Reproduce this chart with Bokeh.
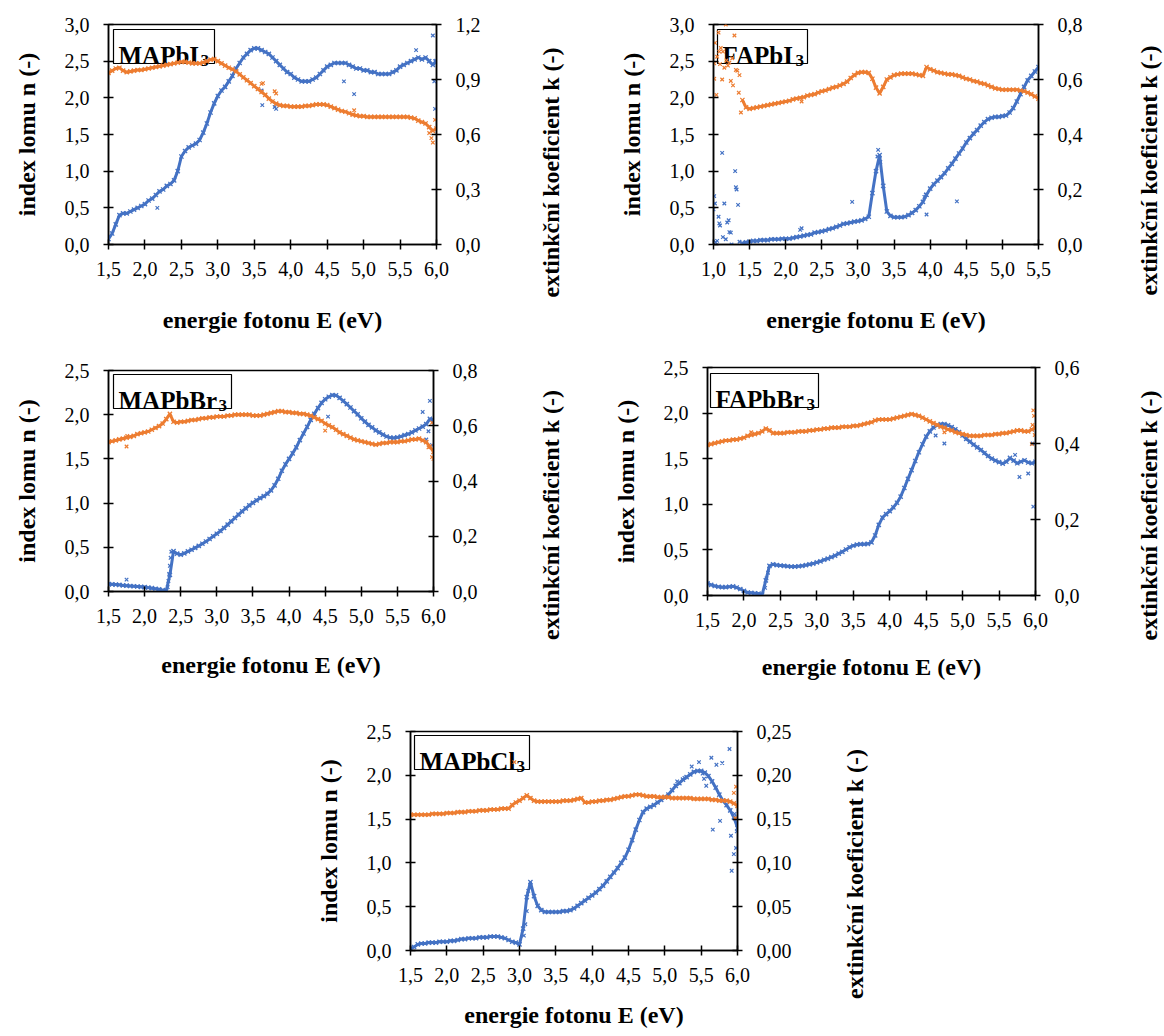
import numpy as np
from bokeh.plotting import figure
from bokeh.layouts import column, row
from bokeh.models import Range1d, LinearAxis, FixedTicker, CustomJSTickFormatter, Spacer
from bokeh.core.properties import value
from bokeh.embed import file_html
from bokeh.resources import INLINE

FONT = "Liberation Serif"
ORANGE = "#ED7D31"
BLUE = "#4472C4"

# photon energy sampling (eV)
E_15_60 = np.round(np.arange(150, 601, 5) / 100.0, 2)   # 1.50 ... 6.00
E_14_55 = np.round(np.arange(140, 551, 5) / 100.0, 2)   # 1.40 ... 5.50

# ---------------- MAPbI3 ----------------
MAPbI3_n = [2.34, 2.37, 2.40, 2.41, 2.37, 2.35, 2.36, 2.37, 2.38, 2.38,
            2.39, 2.40, 2.41, 2.42, 2.43, 2.44, 2.45, 2.46, 2.47, 2.48,
            2.49, 2.49, 2.48, 2.47, 2.47, 2.47, 2.48, 2.50, 2.52, 2.53,
            2.50, 2.47, 2.44, 2.41, 2.39, 2.36, 2.32, 2.28, 2.24, 2.20,
            2.16, 2.12, 2.08, 2.04, 1.99, 1.95, 1.92, 1.90, 1.89, 1.89,
            1.88, 1.88, 1.88, 1.88, 1.89, 1.89, 1.90, 1.91, 1.91, 1.91,
            1.90, 1.88, 1.86, 1.84, 1.82, 1.81, 1.79, 1.77, 1.76, 1.75,
            1.75, 1.74, 1.74, 1.74, 1.74, 1.74, 1.74, 1.74, 1.74, 1.74,
            1.74, 1.74, 1.74, 1.73, 1.72, 1.69, 1.67, 1.65, 1.60, 1.55,
            1.58]
MAPbI3_k = [0.03, 0.06, 0.11, 0.16, 0.17, 0.17, 0.18, 0.19, 0.20, 0.21,
            0.22, 0.24, 0.25, 0.27, 0.29, 0.30, 0.32, 0.33, 0.35, 0.40,
            0.48, 0.51, 0.53, 0.54, 0.55, 0.57, 0.61, 0.66, 0.72, 0.77,
            0.81, 0.84, 0.86, 0.89, 0.92, 0.96, 0.99, 1.02, 1.04, 1.06,
            1.07, 1.07, 1.06, 1.05, 1.04, 1.02, 1.00, 0.98, 0.96, 0.94,
            0.93, 0.91, 0.90, 0.89, 0.89, 0.89, 0.90, 0.91, 0.93, 0.95,
            0.97, 0.98, 0.99, 0.99, 0.99, 0.99, 0.98, 0.97, 0.96, 0.96,
            0.95, 0.95, 0.94, 0.94, 0.93, 0.93, 0.93, 0.93, 0.94, 0.95,
            0.97, 0.98, 0.99, 1.00, 1.01, 1.02, 1.01, 1.02, 1.00, 0.98,
            1.00]
MAPbI3_n_out_E = [3.60, 3.62, 3.78, 3.80, 4.87, 5.95, 5.98, 5.90, 5.93]
MAPbI3_n_out = [2.19, 2.20, 2.09, 2.06, 1.83, 1.39, 1.70, 1.52, 1.45]
MAPbI3_k_out_E = [2.17, 3.60, 3.61, 3.78, 3.80, 4.73, 4.87, 5.72, 5.95, 5.97, 5.98, 5.98]
MAPbI3_k_out = [0.20, 0.84, 0.76, 0.75, 0.74, 0.89, 0.82, 1.06, 1.14, 0.89, 1.00, 0.74]

# ---------------- FAPbI3 ----------------
FAPbI3_n = [1.97, 1.87,
            1.85, 1.86, 1.87, 1.88, 1.89, 1.90, 1.91, 1.92, 1.93, 1.94,
            1.95, 1.96, 1.98, 1.99, 2.00, 2.01, 2.03, 2.04, 2.05, 2.07,
            2.09, 2.10, 2.12, 2.14, 2.15, 2.17, 2.19, 2.22, 2.27, 2.31,
            2.34, 2.35, 2.35, 2.34, 2.26, 2.14, 2.06, 2.15, 2.25, 2.28,
            2.31, 2.32, 2.33, 2.33, 2.33, 2.33, 2.32, 2.31, 2.30, 2.42,
            2.39, 2.37, 2.35, 2.34, 2.33, 2.32, 2.32, 2.31, 2.30, 2.28,
            2.26, 2.25, 2.23, 2.22, 2.20, 2.19, 2.17, 2.15, 2.13, 2.12,
            2.11, 2.11, 2.11, 2.11, 2.11, 2.10, 2.09, 2.07, 2.05, 2.02,
            1.99]
FAPbI3_k = [0.005, 0.008,
            0.011, 0.013, 0.013, 0.016, 0.016, 0.016, 0.019, 0.019, 0.019, 0.021,
            0.021, 0.021, 0.024, 0.027, 0.029, 0.032, 0.035, 0.037, 0.043, 0.045,
            0.048, 0.051, 0.056, 0.059, 0.064, 0.069, 0.075, 0.077, 0.080, 0.083,
            0.085, 0.088, 0.093, 0.101, 0.187, 0.267, 0.325, 0.213, 0.120, 0.104,
            0.099, 0.099, 0.099, 0.101, 0.107, 0.115, 0.125, 0.139, 0.155, 0.181,
            0.203, 0.219, 0.232, 0.245, 0.259, 0.277, 0.293, 0.312, 0.331, 0.349,
            0.371, 0.387, 0.403, 0.416, 0.432, 0.445, 0.456, 0.461, 0.464, 0.464,
            0.467, 0.469, 0.480, 0.496, 0.520, 0.547, 0.573, 0.597, 0.613, 0.629,
            0.645]
FAPbI3_n_out_E = [1.01, 1.01, 1.02, 1.04, 1.05, 1.07, 1.08, 1.09, 1.10, 1.12, 1.13, 1.15, 1.17,
                  1.18, 1.20, 1.22, 1.24, 1.26, 1.27, 1.29, 1.31, 1.33, 1.35, 1.36, 1.38, 2.22]
FAPbI3_n_out = [2.26, 2.47, 2.75, 2.04, 2.56, 2.89, 2.63, 2.46, 2.68, 2.25, 2.63, 2.41, 3.00,
                2.51, 2.44, 2.48, 2.23, 2.54, 2.17, 2.85, 2.38, 2.37, 2.07, 2.31, 1.80, 1.95]
FAPbI3_k_out_E = [1.00, 1.01, 1.02, 1.03, 1.05, 1.07, 1.08, 1.09, 1.12, 1.13, 1.15, 1.17, 1.19,
                  1.21, 1.22, 1.24, 1.25, 1.30, 1.31, 1.32, 1.34, 1.36, 2.20, 2.22, 2.92, 3.27,
                  3.28, 3.31, 3.94, 3.92, 3.95, 4.37]
FAPbI3_k_out = [0.128, 0.176, 0.149, 0.008, 0.013, 0.101, 0.077, 0.069, 0.333, 0.027, 0.149, 0.019,
                0.080, 0.088, 0.045, 0.043, 0.000, 0.267, 0.208, 0.200, 0.144, 0.010, 0.053, 0.059,
                0.155, 0.320, 0.344, 0.300, 0.181, 0.173, 0.109, 0.157]

# ---------------- MAPbBr3 ----------------
MAPbBr3_n = [1.69, 1.70, 1.71, 1.72, 1.73, 1.74, 1.75, 1.76, 1.78, 1.79,
             1.80, 1.81, 1.83, 1.85, 1.87, 1.90, 1.95, 2.01, 1.92, 1.91,
             1.92, 1.92, 1.93, 1.94, 1.94, 1.95, 1.96, 1.96, 1.97, 1.97,
             1.98, 1.98, 1.98, 1.99, 1.99, 2.00, 2.00, 2.00, 2.00, 2.00,
             1.99, 1.99, 1.99, 2.00, 2.01, 2.02, 2.03, 2.04, 2.04, 2.03,
             2.03, 2.02, 2.02, 2.01, 2.01, 2.00, 1.99, 1.97, 1.95, 1.93,
             1.90, 1.88, 1.86, 1.83, 1.80, 1.78, 1.76, 1.74, 1.72, 1.71,
             1.70, 1.69, 1.68, 1.67, 1.66, 1.67, 1.68, 1.68, 1.69, 1.69,
             1.69, 1.70, 1.70, 1.71, 1.72, 1.72, 1.73, 1.71, 1.69, 1.64,
             1.58]
MAPbBr3_k = [0.027, 0.026, 0.025, 0.024, 0.022, 0.021, 0.020, 0.019, 0.018, 0.017,
             0.016, 0.014, 0.012, 0.010, 0.008, 0.005, 0.003, 0.060, 0.146, 0.137,
             0.133, 0.138, 0.145, 0.151, 0.158, 0.165, 0.173, 0.181, 0.190, 0.200,
             0.209, 0.219, 0.230, 0.242, 0.254, 0.266, 0.278, 0.290, 0.301, 0.312,
             0.321, 0.330, 0.338, 0.345, 0.354, 0.366, 0.384, 0.408, 0.437, 0.460,
             0.480, 0.500, 0.522, 0.548, 0.572, 0.596, 0.621, 0.643, 0.664, 0.683,
             0.696, 0.705, 0.711, 0.710, 0.701, 0.690, 0.678, 0.666, 0.653, 0.641,
             0.627, 0.615, 0.603, 0.594, 0.583, 0.576, 0.568, 0.561, 0.557, 0.556,
             0.558, 0.561, 0.566, 0.570, 0.576, 0.583, 0.590, 0.597, 0.606, 0.625,
             0.620]
MAPbBr3_n_out_E = [1.75, 1.76, 4.50, 5.93, 5.98, 6.00, 5.98]
MAPbBr3_n_out = [1.64, 1.76, 1.82, 1.63, 1.52, 1.50, 1.91]
MAPbBr3_k_out_E = [1.75, 2.32, 2.33, 2.34, 2.35, 2.36, 2.37, 4.54, 5.85, 5.95, 5.90, 5.98, 5.93]
MAPbBr3_k_out = [0.043, 0.016, 0.038, 0.064, 0.093, 0.122, 0.144, 0.633, 0.650, 0.690, 0.550, 0.530, 0.580]

# ---------------- FAPbBr3 ----------------
FAPbBr3_n = [1.65, 1.66, 1.67, 1.68, 1.69, 1.70, 1.70, 1.71, 1.71, 1.72,
             1.73, 1.75, 1.76, 1.77, 1.78, 1.80, 1.83, 1.81, 1.78, 1.78,
             1.78, 1.78, 1.79, 1.79, 1.79, 1.80, 1.80, 1.80, 1.81, 1.81,
             1.82, 1.82, 1.83, 1.83, 1.84, 1.84, 1.84, 1.85, 1.85, 1.85,
             1.86, 1.86, 1.87, 1.88, 1.89, 1.90, 1.92, 1.93, 1.93, 1.93,
             1.93, 1.94, 1.95, 1.96, 1.97, 1.98, 1.99, 1.98, 1.97, 1.95,
             1.93, 1.91, 1.89, 1.87, 1.85, 1.84, 1.82, 1.81, 1.79, 1.78,
             1.77, 1.76, 1.75, 1.75, 1.75, 1.75, 1.76, 1.76, 1.76, 1.77,
             1.77, 1.78, 1.78, 1.79, 1.80, 1.81, 1.81, 1.80, 1.80, 1.82,
             1.84]
FAPbBr3_k = [0.032, 0.028, 0.025, 0.023, 0.022, 0.022, 0.023, 0.024, 0.021, 0.017,
             0.012, 0.008, 0.007, 0.006, 0.005, 0.002, 0.040, 0.078, 0.082, 0.080,
             0.079, 0.078, 0.077, 0.076, 0.076, 0.077, 0.078, 0.080, 0.082, 0.084,
             0.087, 0.090, 0.094, 0.097, 0.101, 0.105, 0.110, 0.115, 0.121, 0.127,
             0.131, 0.134, 0.135, 0.135, 0.136, 0.140, 0.158, 0.186, 0.205, 0.214,
             0.222, 0.232, 0.244, 0.260, 0.283, 0.307, 0.330, 0.354, 0.377, 0.398,
             0.418, 0.432, 0.442, 0.448, 0.451, 0.451, 0.448, 0.443, 0.437, 0.430,
             0.421, 0.412, 0.405, 0.397, 0.390, 0.383, 0.375, 0.367, 0.360, 0.355,
             0.351, 0.347, 0.352, 0.362, 0.355, 0.348, 0.352, 0.356, 0.350, 0.348,
             0.352]
FAPbBr3_n_out_E = [2.10, 4.75, 5.97, 5.98, 5.96, 5.99, 5.95]
FAPbBr3_n_out = [1.79, 1.79, 2.03, 1.97, 1.87, 1.76, 1.66]
FAPbBr3_k_out_E = [2.29, 2.31, 2.33, 4.63, 4.75, 5.72, 5.78, 5.90, 5.95, 5.96, 5.97]
FAPbBr3_k_out = [0.020, 0.045, 0.060, 0.421, 0.400, 0.370, 0.312, 0.321, 0.437, 0.400, 0.234]

# ---------------- MAPbCl3 ----------------
MAPbCl3_n = [1.55, 1.55, 1.55, 1.55, 1.55, 1.55, 1.56, 1.56, 1.56, 1.56,
             1.57, 1.57, 1.57, 1.58, 1.58, 1.58, 1.59, 1.59, 1.59, 1.60,
             1.60, 1.60, 1.61, 1.61, 1.61, 1.62, 1.62, 1.62, 1.66, 1.69,
             1.71, 1.74, 1.77, 1.74, 1.71, 1.70, 1.70, 1.70, 1.70, 1.70,
             1.70, 1.70, 1.71, 1.71, 1.71, 1.72, 1.73, 1.74, 1.69, 1.69,
             1.70, 1.70, 1.71, 1.71, 1.72, 1.72, 1.73, 1.74, 1.75, 1.76,
             1.76, 1.77, 1.78, 1.78, 1.77, 1.76, 1.76, 1.76, 1.75, 1.75,
             1.75, 1.75, 1.74, 1.74, 1.74, 1.74, 1.74, 1.74, 1.73, 1.73,
             1.73, 1.73, 1.73, 1.72, 1.72, 1.71, 1.71, 1.71, 1.70, 1.68,
             1.65]
MAPbCl3_k = [0.002, 0.004, 0.007, 0.008, 0.008, 0.009, 0.009, 0.009, 0.010, 0.010,
             0.010, 0.011, 0.011, 0.012, 0.013, 0.013, 0.014, 0.014, 0.014, 0.015,
             0.015, 0.015, 0.016, 0.016, 0.016, 0.015, 0.014, 0.012, 0.010, 0.009,
             0.007, 0.025, 0.061, 0.078, 0.062, 0.051, 0.046, 0.044, 0.044, 0.044,
             0.044, 0.044, 0.045, 0.045, 0.046, 0.048, 0.051, 0.054, 0.057, 0.060,
             0.063, 0.066, 0.070, 0.074, 0.079, 0.084, 0.089, 0.094, 0.100, 0.106,
             0.115, 0.126, 0.138, 0.149, 0.158, 0.162, 0.164, 0.166, 0.169, 0.172,
             0.175, 0.178, 0.183, 0.188, 0.191, 0.195, 0.198, 0.201, 0.204, 0.205,
             0.205, 0.203, 0.199, 0.193, 0.186, 0.178, 0.171, 0.166, 0.160, 0.152,
             0.140]
MAPbCl3_n_out_E = [2.93, 5.97, 5.98, 5.95]
MAPbCl3_n_out = [2.15, 1.51, 1.87, 1.80]
MAPbCl3_k_out_E = [3.06, 3.08, 3.10, 3.12, 5.17, 5.27, 5.37, 5.47, 5.52, 5.54, 5.57, 5.64,
                   5.66, 5.71, 5.76, 5.79, 5.89, 5.91, 5.92, 5.95, 5.96, 5.98, 5.99]
MAPbCl3_k_out = [0.017, 0.030, 0.045, 0.068, 0.193, 0.197, 0.210, 0.215, 0.202, 0.196, 0.188,
                 0.220, 0.138, 0.212, 0.148, 0.214, 0.230, 0.131, 0.091, 0.110, 0.156, 0.117, 0.136]

N_LABEL = "index lomu n (-)"
K_LABEL = "extinkční koeficient k (-)"
E_LABEL = "energie fotonu E (eV)"

panels = [
    dict(name="MAPbI", E=E_15_60, n=MAPbI3_n, k=MAPbI3_k,
         noE=MAPbI3_n_out_E, no=MAPbI3_n_out, koE=MAPbI3_k_out_E, ko=MAPbI3_k_out,
         xr=(1.5, 6.0), nmax=3.0, kmax=1.2, kstep=0.3, kdec=1,
         fw=328, fh=220, bl=100, br=97, bt=16, bb=100, kt_shift=38,
         ls_b=28, box=(5, 5, 101), sub_dx=82),
    dict(name="FAPbI", E=E_14_55, n=FAPbI3_n, k=FAPbI3_k,
         noE=FAPbI3_n_out_E, no=FAPbI3_n_out, koE=FAPbI3_k_out_E, ko=FAPbI3_k_out,
         xr=(1.0, 5.5), nmax=3.0, kmax=0.8, kstep=0.2, kdec=1,
         fw=325, fh=220, bl=148, br=93, bt=16, bb=100, kt_shift=36,
         ls_b=28, box=(4, 5, 90), sub_dx=73),
    dict(name="MAPbBr", E=E_15_60, n=MAPbBr3_n, k=MAPbBr3_k,
         noE=MAPbBr3_n_out_E, no=MAPbBr3_n_out, koE=MAPbBr3_k_out_E, ko=MAPbBr3_k_out,
         xr=(1.5, 6.0), nmax=2.5, kmax=0.8, kstep=0.2, kdec=1,
         fw=325, fh=221, bl=100, br=100, bt=26, bb=109, kt_shift=34,
         ls_b=26, box=(5, 4, 118), sub_dx=100),
    dict(name="FAPbBr", E=E_15_60, n=FAPbBr3_n, k=FAPbBr3_k,
         noE=FAPbBr3_n_out_E, no=FAPbBr3_n_out, koE=FAPbBr3_k_out_E, ko=FAPbBr3_k_out,
         xr=(1.5, 6.0), nmax=2.5, kmax=0.6, kstep=0.2, kdec=1,
         fw=328, fh=228, bl=142, br=96, bt=23, bb=105, kt_shift=34,
         ls_b=24, box=(3, 6, 108), sub_dx=91),
    dict(name="MAPbCl", E=E_15_60, n=MAPbCl3_n, k=MAPbCl3_k,
         noE=MAPbCl3_n_out_E, no=MAPbCl3_n_out, koE=MAPbCl3_k_out_E, ko=MAPbCl3_k_out,
         xr=(1.5, 6.0), nmax=2.5, kmax=0.25, kstep=0.05, kdec=2,
         fw=327, fh=219, bl=100, br=100, bt=31, bb=84, kt_shift=33,
         ls_b=17, box=(4, 4, 115), sub_dx=97),
]

STRIP_BORDER = 30   # width reserved for the right-hand axis title
STRIP_FRAME = 2


def fmt(dec):
    return CustomJSTickFormatter(code="return tick.toFixed(%d).replace('.', ',');" % dec)


def ticks(lo, hi, step):
    cnt = int(round((hi - lo) / step))
    return [round(lo + i * step, 4) for i in range(cnt + 1)]


def style_axis(ax, label_standoff, title_standoff):
    ax.axis_line_color = "black"
    ax.axis_line_width = 1.5
    ax.major_tick_line_color = "black"
    ax.major_tick_line_width = 1.5
    ax.major_tick_in = 5
    ax.major_tick_out = 5
    ax.minor_tick_line_color = None
    ax.major_label_text_font = FONT
    ax.major_label_text_font_size = "20px"
    ax.major_label_text_color = "black"
    ax.major_label_standoff = label_standoff
    ax.axis_label_text_font = FONT
    ax.axis_label_text_font_size = "24px"
    ax.axis_label_text_font_style = "bold"
    ax.axis_label_text_color = "black"
    ax.axis_label_standoff = title_standoff


def make_panel(c):
    x0, x1 = c["xr"]
    H = c["bt"] + c["fh"] + c["bb"]
    p = figure(width=c["bl"] + c["fw"] + c["br"], height=H,
               x_range=Range1d(x0, x1), y_range=Range1d(0, c["nmax"]),
               output_backend="svg", toolbar_location=None,
               min_border_left=c["bl"], min_border_right=c["br"],
               min_border_top=c["bt"], min_border_bottom=c["bb"])
    p.extra_y_ranges = {"k": Range1d(0, c["kmax"])}
    p.grid.visible = False
    p.outline_line_color = "black"
    p.outline_line_width = 1.5
    p.background_fill_color = "white"
    p.border_fill_color = "white"

    xa = p.xaxis[0]
    xa.ticker = FixedTicker(ticks=ticks(x0, x1, 0.5))
    xa.formatter = fmt(1)
    xa.axis_label = E_LABEL
    style_axis(xa, 12, c["ls_b"])

    ya = p.yaxis[0]
    ya.ticker = FixedTicker(ticks=ticks(0, c["nmax"], 0.5))
    ya.formatter = fmt(1)
    ya.axis_label = N_LABEL
    style_axis(ya, 14, 22)

    ka = LinearAxis(y_range_name="k",
                    ticker=FixedTicker(ticks=ticks(0, c["kmax"], c["kstep"])),
                    formatter=fmt(c["kdec"]))
    style_axis(ka, 14, 10)
    p.add_layout(ka, "right")

    # label box (pixel offsets inside the frame converted to data units)
    bx, by, bw = c["box"]
    bh = 34
    sx = (x1 - x0) / c["fw"]
    sy = c["nmax"] / c["fh"]
    p.quad(left=[x0 + bx * sx], right=[x0 + (bx + bw) * sx],
           top=[c["nmax"] - by * sy], bottom=[c["nmax"] - (by + bh) * sy],
           fill_color="white", line_color="black", line_width=1.2)
    tx = x0 + (bx + 5) * sx
    ty = c["nmax"] - (by + 26) * sy
    p.text(x=[tx], y=[ty], text=[c["name"]], text_font=value(FONT),
           text_font_size="25px", text_font_style="bold", text_color="black",
           text_align="left", text_baseline="alphabetic")
    p.text(x=[tx], y=[ty], text=["3"], x_offset=c["sub_dx"], y_offset=5,
           text_font=value(FONT), text_font_size="17px", text_font_style="bold",
           text_color="black", text_align="left", text_baseline="alphabetic")

    # k (blue, right axis)
    p.line(c["E"], c["k"], line_color=BLUE, line_width=3, y_range_name="k")
    p.scatter(c["E"], c["k"], marker="x", size=6, line_color=BLUE, line_width=1.3,
              y_range_name="k")
    p.scatter(c["koE"], c["ko"], marker="x", size=5, line_color=BLUE, line_width=1.2,
              y_range_name="k")
    # n (orange, left axis)
    p.line(c["E"], c["n"], line_color=ORANGE, line_width=3)
    p.scatter(c["E"], c["n"], marker="x", size=6, line_color=ORANGE, line_width=1.3)
    p.scatter(c["noE"], c["no"], marker="x", size=5, line_color=ORANGE, line_width=1.2)

    # right-hand axis title: a narrow strip (pushed down by a spacer) whose
    # label-only left axis reads bottom-to-top
    d = c["kt_shift"]
    t = figure(width=STRIP_BORDER + STRIP_FRAME, height=H - d,
               x_range=Range1d(0, 1), y_range=Range1d(0, 1),
               x_axis_type=None, y_axis_type=None, output_backend="svg",
               toolbar_location=None, min_border_left=STRIP_BORDER, min_border_right=0,
               min_border_top=c["bt"], min_border_bottom=c["bb"] - d)
    t.outline_line_color = None
    t.grid.visible = False
    t.background_fill_color = "white"
    t.border_fill_color = "white"
    ta = LinearAxis(ticker=FixedTicker(ticks=[]), axis_label=K_LABEL)
    ta.axis_line_color = None
    ta.major_tick_line_color = None
    ta.minor_tick_line_color = None
    ta.major_tick_in = 0
    ta.major_tick_out = 0
    ta.major_label_standoff = 0
    ta.major_label_text_font_size = "1px"
    ta.axis_label_text_font = FONT
    ta.axis_label_text_font_size = "24px"
    ta.axis_label_text_font_style = "bold"
    ta.axis_label_text_color = "black"
    ta.axis_label_standoff = 0
    t.add_layout(ta, "left")
    strip = column(Spacer(width=STRIP_BORDER + STRIP_FRAME, height=d), t)
    return row(p, strip)


figs = [make_panel(c) for c in panels]
grid = column(row(figs[0], figs[1]),
              row(figs[2], figs[3]),
              row(Spacer(width=302, height=10), figs[4]))
layout = column(Spacer(width=10, height=8), row(Spacer(width=8, height=10), grid))

open("out.html", "w").write(file_html(layout, INLINE))
